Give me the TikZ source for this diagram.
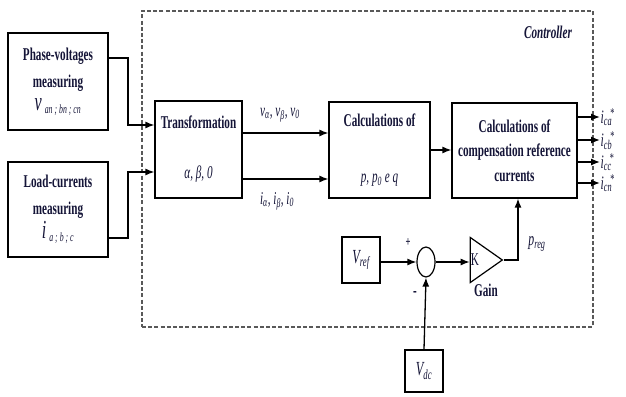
\documentclass[tikz,border=0pt]{standalone}
\usepackage{fontspec}
\setmainfont{Liberation Serif}[FakeStretch=0.62]
\usetikzlibrary{arrows.meta,shapes.geometric}
\definecolor{txt}{RGB}{20,20,55}
\newcommand\isub[2]{\textit{#1}\textsubscript{\textit{#2}}}
\newcommand\istar[1]{\textit{i}\smash{\textsubscript{\textit{#1}}}\kern-2pt\smash{\textsuperscript{*}}}
\begin{document}
\begin{tikzpicture}[x=1pt,y=-1pt,
  box/.style={draw, line width=1.2pt, inner sep=0pt, align=center, text=txt,
    font=\fontsize{18}{21}\selectfont\bfseries},
  arr/.style={-{Latex[length=9pt,width=7pt]}, line width=1.3pt},
  lbl/.style={inner sep=0pt, text=txt, font=\fontsize{18}{21}\selectfont}]
\useasboundingbox (0,0) rectangle (626,396);
% controller frame
\node[draw=black!65, dash pattern=on 4pt off 2.2pt, line width=1.4pt, minimum width=451pt, minimum height=316pt, inner sep=0pt] (frame) at (367.5,169) {};
\node[lbl, font=\fontsize{18}{21}\selectfont\bfseries\itshape] (ctl) at (548,32) {Controller};
% boxes
\node[box, minimum width=100pt, minimum height=97pt] (pv) at (58,81.5)
  {Phase-voltages\\[6pt] measuring\\[2pt] {\fontsize{26}{26}\selectfont\mdseries\itshape v}\,\textsubscript{\itshape\mdseries an ; bn ; cn}};
\node[box, minimum width=100pt, minimum height=95pt] (lc) at (58,209.5)
  {Load-currents\\[6pt] measuring\\[2pt] {\fontsize{26}{26}\selectfont\mdseries\itshape i}\,\textsubscript{\itshape\mdseries a ; b ; c}};
\node[box, minimum width=87pt, minimum height=97pt] (tr) at (198.5,149.5)
  {Transformation\\[29pt] \mdseries\itshape α, β, 0};
\node[box, minimum width=101pt, minimum height=96pt] (calc) at (379.5,150)
  {Calculations of\\[35pt] \mdseries\itshape p, p\textsubscript{0} e q};
\node[box, minimum width=125pt, minimum height=95pt] (comp) at (514.5,150.5)
  {Calculations of\\[3.5pt] compensation reference\\[3.5pt] currents};
\node[box, minimum width=38pt, minimum height=46pt, font=\fontsize{20}{22}\selectfont\itshape] (vref) at (361,260) {\isub{V}{ref}};
\node[box, minimum width=38pt, minimum height=42pt, font=\fontsize{20}{22}\selectfont\itshape] (vdc) at (424,371) {\isub{V}{dc}};
\node[draw, ellipse, line width=1.2pt, minimum width=18pt, minimum height=30pt, inner sep=0pt] (sum) at (426,262) {};
\node[draw, isosceles triangle, isosceles triangle stretches, shape border rotate=0,
  line width=1.2pt, minimum width=45pt, minimum height=32pt, inner sep=0pt] (gain) at (482,260) {};
\node[lbl] (k) at (475,260) {K};
% connectors
\draw[arr] (pv.east|-{(0,58)}) -- (128,58) |- (tr.west|-{(0,125)});
\draw[arr] (lc.east|-{(0,238)}) -- (128,238) |- (tr.west|-{(0,172)});
\draw[arr] (tr.east|-{(0,133)}) -- (calc.west|-{(0,133)});
\draw[arr] (tr.east|-{(0,179)}) -- (calc.west|-{(0,179)});
\draw[arr] (calc.east) -- (calc.east-|comp.west);
\foreach \yy/\nm/\sb in {117/oa/ca,140/ob/cb,162/oc/cc,183/on/cn}{
  \coordinate (\nm) at (600,\yy);
  \draw[arr] (comp.east|-\nm) -- (\nm);
  \node[lbl, anchor=west, font=\fontsize{19}{19}\selectfont] at ([xshift=0.5pt]\nm) {\istar{\sb}};
}
\coordinate (pr) at (518,260);
\draw[arr] (vref.east|-sum.west) -- (sum.west);
\draw[arr] (sum.east) -- (sum.east-|gain.west);
\draw[arr] (gain.apex) -- (pr) -- (pr|-comp.south);
\draw[arr] (vdc.north) -- (sum.south);
% labels
\node[lbl] (va) at (280,115) {\isub{v}{α}, \isub{v}{β}, \isub{v}{0}};
\node[lbl] (ia) at (277,201) {\isub{i}{α}, \isub{i}{β}, \isub{i}{0}};
\node[lbl, font=\fontsize{14}{14}\selectfont\bfseries] (plus) at (408,243) {+};
\node[lbl, font=\fontsize{18}{18}\selectfont\bfseries] (minus) at (415,294) {-};
\node[lbl, font=\fontsize{18}{21}\selectfont\bfseries] (gl) at (486,290) {Gain};
\node[lbl, font=\fontsize{19}{21}\selectfont] (preg) at (537,244) {\isub{p}{reg}};
\end{tikzpicture}
\end{document}
